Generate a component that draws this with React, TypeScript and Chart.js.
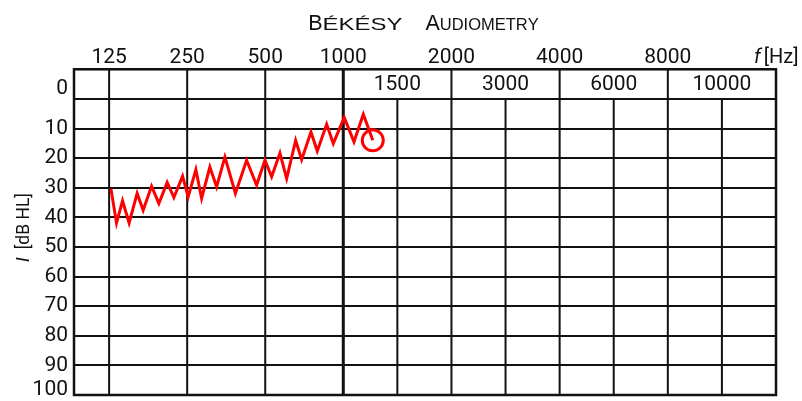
import React, { useEffect, useRef } from "react";
import { Chart, registerables } from "chart.js";

Chart.register(...registerables);

// ---- data -------------------------------------------------------------
const OCTAVE_FREQS = [125, 250, 500, 1000, 2000, 4000, 8000];
const OCTAVE_LABELS = ["125", "250", "500", "1000", "2000", "4000", "8000"];
const HALF_OCTAVE_LABELS = ["1500", "3000", "6000", "10000"];
const HALF_OCTAVE_STEPS = [3.5, 4.5, 5.5, 6.5]; // octaves above 125 Hz
const LEVEL_TICKS = [-10, 0, 10, 20, 30, 40, 50, 60, 70, 80, 90, 100];

const BEKESY_FREQ_HZ = [
  127, 133.5, 140.8, 149.3, 160.3, 169.1, 182.2, 194.4, 209.3, 222.2, 240, 252.2,
  270.1, 284.2, 305.8, 324.7, 349.5, 383.7, 423.8, 463.2, 498.7, 529.3, 569.8, 604.8,
  655.1, 691, 750.5, 793.7, 862.9, 915, 1006, 1071, 1137, 1208,
];
const BEKESY_LEVEL_DB = [
  30.3, 41.9, 34.4, 41.9, 31.9, 37.6, 29.5, 35.3, 28.2, 33.3, 26.1, 33.1,
  23.9, 33.6, 23.0, 29.7, 19.6, 31.9, 20.7, 29.1, 20.7, 26.3, 18.3, 26.9,
  14.0, 20.5, 11.2, 17.6, 8.6, 15.1, 6.3, 14.5, 5.2, 14.0,
];

// ---- axis geometry (octave columns: 125–1000 Hz narrow, above wider) ----
const LOW_OCTAVES = 3;
const WIDE_RATIO = 1.386;
const AXIS_MIN = -0.45;
const AXIS_MAX_OCTAVE = 7;

function octaveToAxis(o: number) {
  return o <= LOW_OCTAVES ? o : LOW_OCTAVES + (o - LOW_OCTAVES) * WIDE_RATIO;
}
function freqToAxis(f: number) {
  return octaveToAxis(Math.log2(f / 125));
}

const INK = "#111";
const FONT = "Roboto";

const audiogramPlugin = {
  id: "audiogram",
  beforeDatasetsDraw(chart: any) {
    const { ctx, chartArea, scales } = chart;
    const xs = scales.x;
    const ys = scales.y;
    const y0 = ys.getPixelForValue(0);
    ctx.save();
    ctx.strokeStyle = INK;
    // octave lines, full height
    for (let o = 0; o <= AXIS_MAX_OCTAVE; o++) {
      const px = xs.getPixelForValue(octaveToAxis(o));
      ctx.lineWidth = o === LOW_OCTAVES ? 3 : 2;
      ctx.beginPath();
      ctx.moveTo(px, chartArea.top);
      ctx.lineTo(px, chartArea.bottom);
      ctx.stroke();
    }
    // half octave lines, from 0 dB down
    ctx.lineWidth = 2;
    HALF_OCTAVE_STEPS.forEach((o) => {
      const px = xs.getPixelForValue(octaveToAxis(o));
      ctx.beginPath();
      ctx.moveTo(px, y0);
      ctx.lineTo(px, chartArea.bottom);
      ctx.stroke();
    });
    // frame
    ctx.lineWidth = 2.5;
    ctx.strokeRect(chartArea.left, chartArea.top, chartArea.right - chartArea.left, chartArea.bottom - chartArea.top);
    // half octave labels inside the top band
    ctx.fillStyle = INK;
    ctx.font = `21px ${FONT}`;
    ctx.textAlign = "center";
    ctx.textBaseline = "middle";
    const bandMid = (chartArea.top + y0) / 2 + 1;
    HALF_OCTAVE_STEPS.forEach((o, i) => {
      const px = xs.getPixelForValue(octaveToAxis(o));
      ctx.fillText(HALF_OCTAVE_LABELS[i], px, bandMid);
    });
    ctx.restore();
  },
  afterDraw(chart: any) {
    const { ctx, chartArea } = chart;
    ctx.save();
    ctx.fillStyle = INK;
    ctx.textBaseline = "alphabetic";
    ctx.textAlign = "left";

    // title in small caps: [text, font, horizontal stretch, extra advance]
    const big = `21.5px "Liberation Sans"`;
    const small = `16.5px "Liberation Sans"`;
    const parts: [string, string, number, number][] = [
      ["B", big, 1, 0],
      ["ÉKÉSY", small, 1.45, 0],
      [" ", big, 1, 17],
      ["A", big, 1, 0],
      ["UDIOMETRY", small, 1, 0],
    ];
    let total = 0;
    parts.forEach(([t, f, sx, extra]) => {
      ctx.font = f;
      for (const ch of t) total += ctx.measureText(ch).width * sx + extra;
    });
    let tx = (chartArea.left + chartArea.right) / 2 - total / 2 - 1.5;
    parts.forEach(([t, f, sx, extra]) => {
      ctx.font = f;
      for (const ch of t) {
        ctx.save();
        ctx.translate(tx, 29.5);
        ctx.scale(sx, 1);
        ctx.fillText(ch, 0, 0);
        ctx.restore();
        tx += ctx.measureText(ch).width * sx + extra;
      }
    });

    // x axis unit: f [Hz]
    ctx.font = `20px ${FONT}`;
    ctx.textAlign = "right";
    const hz = "[Hz]";
    ctx.fillText(hz, 798.5, 63);
    const hzW = ctx.measureText(hz).width;
    ctx.font = `italic 20px ${FONT}`;
    ctx.fillText("f", 798.5 - hzW - 3, 63);

    // y axis title: I [dB HL]
    ctx.translate(29, 227.5);
    ctx.rotate(-Math.PI / 2);
    ctx.textAlign = "left";
    const unit = "[dB HL]";
    ctx.font = `italic 17.5px ${FONT}`;
    const iW = ctx.measureText("I").width;
    ctx.font = `17.5px ${FONT}`;
    const uW = ctx.measureText(unit).width;
    const gap = 8;
    const start = -(iW + gap + uW) / 2;
    ctx.font = `italic 17.5px ${FONT}`;
    ctx.fillText("I", start, 0);
    ctx.font = `17.5px ${FONT}`;
    ctx.fillText(unit, start + iW + gap, 0);
    ctx.restore();
  },
};

export default function App() {
  const canvasRef = useRef<HTMLCanvasElement | null>(null);

  useEffect(() => {
    document.body.style.margin = "0";
    const canvas = canvasRef.current;
    if (!canvas) return;
    const last = BEKESY_FREQ_HZ.length - 1;
    const chart = new Chart(canvas, {
      type: "line",
      data: {
        datasets: [
          {
            data: BEKESY_FREQ_HZ.map((f, i) => ({ x: freqToAxis(f), y: BEKESY_LEVEL_DB[i] })),
            borderColor: "#ff0000",
            borderWidth: 3,
            tension: 0,
            borderJoinStyle: "miter",
            pointRadius: (c: any) => (c.dataIndex === last ? 10.5 : 0),
            pointHoverRadius: (c: any) => (c.dataIndex === last ? 10.5 : 0),
            pointBorderWidth: 3,
            pointBorderColor: "#ff0000",
            pointBackgroundColor: "rgba(0,0,0,0)",
          } as any,
        ],
      },
      options: {
        responsive: false,
        animation: false,
        devicePixelRatio: 1,
        layout: { autoPadding: false, padding: { left: 0, top: 0, right: 26, bottom: 6 } },
        plugins: {
          legend: { display: false },
          title: { display: false },
          tooltip: { enabled: false },
        },
        scales: {
          x: {
            type: "linear",
            position: "top",
            min: AXIS_MIN,
            max: octaveToAxis(AXIS_MAX_OCTAVE),
            afterBuildTicks: (scale: any) => {
              scale.ticks = OCTAVE_FREQS.map((f) => ({ value: freqToAxis(f) }));
            },
            afterFit: (scale: any) => {
              scale.height = 69.3;
            },
            grid: { display: false, drawTicks: false },
            border: { display: false },
            ticks: {
              autoSkip: false,
              maxRotation: 0,
              minRotation: 0,
              padding: 1,
              color: INK,
              font: { family: FONT, size: 21, lineHeight: 1 },
              callback: (_v: any, i: number) => OCTAVE_LABELS[i] ?? "",
            },
          },
          y: {
            type: "linear",
            reverse: true,
            min: -10,
            max: 100,
            afterBuildTicks: (scale: any) => {
              scale.ticks = LEVEL_TICKS.map((v) => ({ value: v }));
            },
            afterFit: (scale: any) => {
              scale.width = 74;
            },
            grid: {
              color: INK,
              lineWidth: 2,
              drawTicks: true,
              tickLength: 6,
              tickColor: "rgba(0,0,0,0)",
            },
            border: { display: false },
            ticks: {
              autoSkip: false,
              padding: 0,
              color: INK,
              font: { family: FONT, size: 21, lineHeight: 0.5 },
              callback: (v: any) =>
                v < 0 ? "" : v === 0 ? ["0", "", ""] : v === 100 ? ["100", ""] : String(v),
            },
          },
        },
      },
      plugins: [audiogramPlugin],
    });
    return () => chart.destroy();
  }, []);

  return (
    <div style={{ width: 802, height: 401 }}>
      <canvas ref={canvasRef} width={802} height={401} />
    </div>
  );
}
